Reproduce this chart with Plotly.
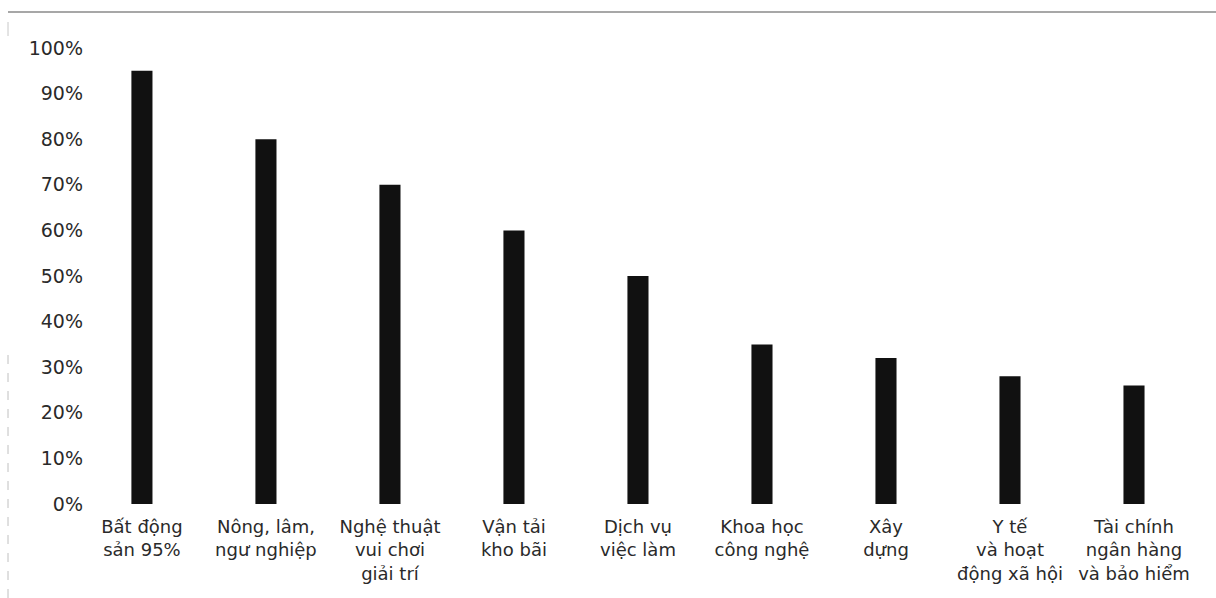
import plotly.graph_objects as go

categories = [
    "Bất động<br>sản 95%",
    "Nông, lâm,<br>ngư nghiệp",
    "Nghệ thuật<br>vui chơi<br>giải trí",
    "Vận tải<br>kho bãi",
    "Dịch vụ<br>việc làm",
    "Khoa học<br>công nghệ",
    "Xây<br>dựng",
    "Y tế<br>và hoạt<br>động xã hội",
    "Tài chính<br>ngân hàng<br>và bảo hiểm",
]
values = [95, 80, 70, 60, 50, 35, 32, 28, 26]
y_ticks = [0, 10, 20, 30, 40, 50, 60, 70, 80, 90, 100]
y_tick_labels = [f"{v}%" for v in y_ticks]

font_family = "DejaVu Sans"
text_color = "#2a2a2a"

W, H = 1216, 598
L, R, T, B = 88, 20, 48, 94
pw, ph = W - L - R, H - T - B


def px_x(x):
    return (x - L) / pw


def px_y(y):
    return (H - B - y) / ph


fig = go.Figure()
fig.add_trace(go.Bar(
    x=list(range(len(categories))),
    y=values,
    width=0.17,
    marker=dict(color="#111111", line=dict(width=0)),
    hoverinfo="skip",
))

fig.update_layout(
    width=W,
    height=H,
    margin=dict(l=L, r=R, t=T, b=B),
    paper_bgcolor="white",
    plot_bgcolor="white",
    showlegend=False,
    font=dict(family=font_family, size=18, color=text_color),
    xaxis=dict(
        tickmode="array",
        tickvals=list(range(len(categories))),
        ticktext=categories,
        range=[-0.435, 8.5],
        showgrid=False,
        zeroline=False,
        showline=False,
        ticks="",
        tickangle=0,
        tickfont=dict(family=font_family, size=18, color=text_color),
        ticklabelstandoff=10,
    ),
    yaxis=dict(
        tickmode="array",
        tickvals=y_ticks,
        ticktext=y_tick_labels,
        range=[0, 100],
        showgrid=False,
        zeroline=False,
        showline=False,
        ticks="",
        tickfont=dict(family=font_family, size=19, color=text_color),
        ticklabelstandoff=4,
    ),
    shapes=[
        dict(type="line", xref="paper", yref="paper", x0=px_x(8), x1=px_x(1216),
             y0=px_y(12), y1=px_y(12),
             line=dict(color="#8a8a8a", width=1.5)),
        dict(type="line", xref="paper", yref="paper", x0=px_x(8), x1=px_x(8),
             y0=px_y(22), y1=px_y(36),
             line=dict(color="#c8c8c8", width=1)),
        dict(type="line", xref="paper", yref="paper", x0=px_x(8), x1=px_x(8),
             y0=px_y(355), y1=px_y(598),
             line=dict(color="#c0c0c0", width=1, dash="dash")),
    ],
)

fig.write_html("out.html")
